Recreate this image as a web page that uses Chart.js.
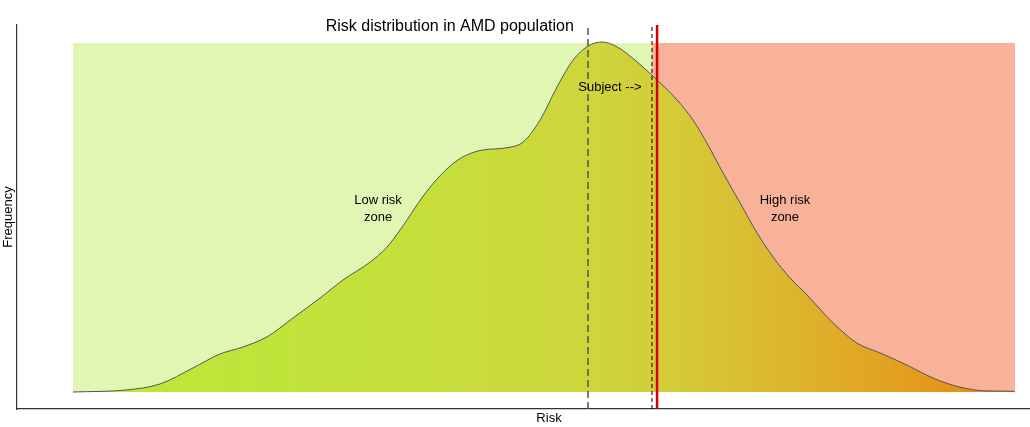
<!DOCTYPE html>
<html><head><meta charset="utf-8">
<script src="https://cdn.jsdelivr.net/npm/chart.js@4.4.0/dist/chart.umd.min.js"></script>
<style>html,body{margin:0;padding:0;background:#fff;}canvas{display:block;}</style>
</head><body>
<canvas id="c" width="1030" height="427"></canvas>
<script>
// ---- data ----
const riskX = [0, 5.73, 9.24, 12.74, 15.61, 18.05, 20.59, 23.35, 26.22, 28.66, 31.53, 33.33, 34.71, 37.90, 40.76, 43.21, 46.07, 47.77, 49.58, 51.38, 53.08, 54.67, 56.16, 57.75, 59.87, 62.00, 64.12, 65.82, 67.30, 69.00, 70.81, 72.61, 74.31, 76.11, 77.92, 80.68, 83.23, 85.67, 88.54, 91.30, 94.16, 97.03, 99.79, 100];
const density = [0, 0.006, 0.023, 0.069, 0.109, 0.129, 0.158, 0.212, 0.269, 0.321, 0.372, 0.415, 0.464, 0.587, 0.663, 0.692, 0.700, 0.716, 0.779, 0.874, 0.951, 0.991, 1.003, 0.989, 0.946, 0.894, 0.837, 0.779, 0.713, 0.628, 0.542, 0.456, 0.387, 0.327, 0.278, 0.198, 0.140, 0.112, 0.077, 0.040, 0.014, 0.003, 0.002, 0];
const lowZone = [0, 61.46];
const highZone = [61.46, 100];
const zoneHeight = 1.0;
const populationMarker = 54.67;
const thresholdMarker = 61.46;
const subjectRisk = 62.0;
const titleText = 'Risk distribution in AMD population';
const xAxisTitle = 'Risk';
const yAxisTitle = 'Frequency';
const lowZoneLabel = ['Low risk', 'zone'];
const highZoneLabel = ['High risk', 'zone'];
const subjectLabel = 'Subject -->';

// ---- scale ranges ----
const X_MIN = -5.945, X_MAX = 101.59;
const Y_MIN = -0.0487, Y_MAX = 1.0516;

const curvePoints = riskX.map((x, i) => ({x, y: density[i]}));
const rect = (r) => [{x: r[0], y: zoneHeight}, {x: r[1], y: zoneHeight}];
const vline = (x) => [{x, y: Y_MIN}, {x, y: Y_MAX}];

function curveGradient(ctx) {
  const chart = ctx.chart;
  if (!chart.chartArea) return '#c8dc3c';
  const xs = chart.scales.x;
  const g = chart.ctx.createLinearGradient(xs.getPixelForValue(0), 0, xs.getPixelForValue(100), 0);
  g.addColorStop(0, '#b9e93a');
  g.addColorStop(0.35, '#c5e03b');
  g.addColorStop(0.55, '#cdd63b');
  g.addColorStop(0.65, '#d5c937');
  g.addColorStop(0.76, '#dcb52e');
  g.addColorStop(0.88, '#e39f20');
  g.addColorStop(1, '#e8840f');
  return g;
}

const FONT = '"Liberation Sans", Arial, sans-serif';

const textPlugin = {
  id: 'texts',
  afterDatasetsDraw(chart) {
    const {ctx, chartArea} = chart;
    const xs = chart.scales.x, ys = chart.scales.y;
    ctx.save();
    ctx.fillStyle = '#000';
    ctx.textAlign = 'center';
    ctx.textBaseline = 'middle';
    ctx.font = '13px ' + FONT;
    const px = (v) => xs.getPixelForValue(v);
    const py = (v) => ys.getPixelForValue(v);
    ctx.fillText(lowZoneLabel[0], px(32.38), py(0.550));
    ctx.fillText(lowZoneLabel[1], px(32.38), py(0.499));
    ctx.fillText(highZoneLabel[0], px(75.58), py(0.550));
    ctx.fillText(highZoneLabel[1], px(75.58), py(0.499));
    ctx.fillText(subjectLabel, px(57.0), py(0.874));
    ctx.fillText(xAxisTitle, px(50.53), chartArea.bottom + 9);
    ctx.font = '16px ' + FONT;
    ctx.fillText(titleText, px(40.0), 27);
    ctx.font = '13px ' + FONT;
    ctx.translate(8, (chartArea.top + chartArea.bottom) / 2);
    ctx.rotate(-Math.PI / 2);
    ctx.fillText(yAxisTitle, 0, 0);
    ctx.restore();
  }
};

new Chart(document.getElementById('c'), {
  type: 'line',
  data: {
    datasets: [
      {data: rect(lowZone), fill: 'origin', backgroundColor: '#e0f7b4', borderWidth: 0, pointRadius: 0, order: 5},
      {data: rect(highZone), fill: 'origin', backgroundColor: '#f8b29a', borderWidth: 0, pointRadius: 0, order: 4},
      {data: curvePoints, fill: 'origin', backgroundColor: curveGradient, borderColor: '#555555', borderWidth: 1, pointRadius: 0, cubicInterpolationMode: 'monotone', order: 3},
      {data: vline(populationMarker), borderColor: '#555555', borderWidth: 1.5, borderDash: [7, 4], pointRadius: 0, fill: false, order: 2},
      {data: vline(thresholdMarker), borderColor: '#000000', borderWidth: 1, borderDash: [4, 3], pointRadius: 0, fill: false, order: 1},
      {data: vline(subjectRisk), borderColor: '#d40000', borderWidth: 2.5, pointRadius: 0, fill: false, order: 0}
    ]
  },
  options: {
    responsive: false,
    animation: false,
    devicePixelRatio: 1,
    layout: {padding: {left: 17, right: 0, top: 25, bottom: 18}},
    plugins: {legend: {display: false}, tooltip: {enabled: false}, title: {display: false}},
    scales: {
      x: {type: 'linear', min: X_MIN, max: X_MAX, grid: {display: false, drawTicks: false}, ticks: {display: false}, border: {display: true, color: '#333', width: 1.2}},
      y: {type: 'linear', min: Y_MIN, max: Y_MAX, grid: {display: false, drawTicks: false}, ticks: {display: false}, border: {display: true, color: '#333', width: 1.2}}
    }
  },
  plugins: [textPlugin]
});
</script>
</body></html>
